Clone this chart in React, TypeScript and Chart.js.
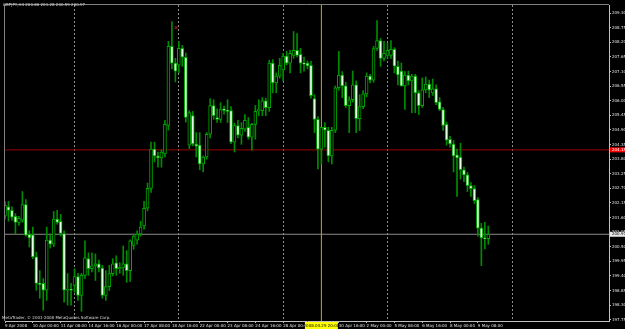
import React, { useEffect, useRef } from "react";
import { Chart, registerables } from "chart.js";
Chart.register(...registerables);

const symbolTitle = "GBPJPY,H4 200.80 201.28 200.59 200.97";
const copyright = "MetaTrader, \u00a9 2001-2008 MetaQuotes Software Corp.";

const opens = [
  201.65, 202.0, 201.87, 201.65, 201.42, 201.5, 202.09, 200.97, 200.95, 200.12,
  199.12, 199.12, 198.86, 200.75, 200.6, 201.54, 201.46, 201.0, 198.86, 198.9,
  199.04, 199.38, 198.67, 199.42, 200.05, 199.67, 199.78, 199.86, 199.7, 198.67,
  199.0, 199.49, 199.89, 199.67, 199.72, 199.86, 199.6, 200.55, 200.75, 200.98,
  201.28, 201.95, 202.7, 204.18, 203.92, 203.85, 204.0, 205.07, 208.05, 207.42,
  207.34, 207.98, 207.64, 204.33, 205.44, 204.37, 204.33, 203.62, 203.88, 204.74,
  205.82, 205.37, 205.3, 205.7, 205.63, 205.63, 204.44, 205.07, 204.7, 204.93,
  205.0, 204.63, 205.11, 205.63, 205.63, 206.0, 205.74, 207.42, 206.67, 206.93,
  207.16, 207.68, 207.42, 207.71, 207.9, 207.75, 207.42, 207.42, 207.34, 206.08,
  205.3, 204.18, 205.0, 204.89, 203.92, 204.89, 206.49, 206.97, 206.56, 205.82,
  206.04, 206.6, 205.33, 205.78, 206.26, 206.93, 206.78, 207.97, 208.27, 207.6,
  207.71, 207.71, 207.94, 207.3, 207.12, 206.56, 206.97, 206.75, 206.93, 206.3,
  205.82, 206.41, 206.63, 206.3, 206.45, 205.96, 205.67, 205.11, 204.55, 204.37,
  203.96, 203.88, 203.4, 203.21, 202.8, 202.69, 202.28, 201.2, 200.83, 200.8,
];
const highs = [
  202.2, 202.21, 202.0, 201.75, 201.65, 202.58, 202.28, 201.1, 201.24, 200.3,
  199.6, 199.3, 201.24, 200.95, 201.83, 201.87, 201.72, 201.1, 199.49, 199.12,
  199.67, 199.5, 199.5, 200.72, 200.27, 200.27, 200.23, 200.0, 199.8, 199.6,
  199.8, 200.05, 200.16, 199.9, 200.53, 200.35, 200.76, 200.98, 201.1, 201.46,
  202.21, 202.9, 204.44, 204.44, 204.07, 204.15, 205.26, 208.24, 208.98, 207.6,
  208.24, 208.09, 207.8, 205.63, 205.6, 204.8, 204.8, 203.92, 204.8, 206.08,
  206.04, 205.7, 205.93, 205.8, 206.04, 205.78, 205.15, 205.26, 205.18, 205.48,
  205.37, 205.15, 205.82, 206.04, 206.12, 206.1, 207.53, 207.55, 207.05, 207.6,
  207.79, 207.86, 207.9, 208.61, 208.53, 207.98, 207.65, 207.5, 207.5, 206.23,
  205.4, 205.0, 205.18, 205.0, 205.0, 206.56, 207.86, 207.1, 206.7, 206.15,
  207.12, 206.75, 206.23, 206.38, 207.05, 207.0, 208.05, 209.02, 208.35, 208.24,
  208.16, 208.27, 208.0, 207.5, 207.42, 207.1, 207.12, 207.0, 207.0, 206.38,
  206.86, 206.9, 206.78, 206.82, 206.6, 206.12, 205.75, 205.2, 204.66, 204.5,
  204.18, 204.4, 203.5, 203.3, 202.92, 202.8, 202.35, 201.38, 201.42, 201.28,
];
const lows = [
  201.55, 201.46, 201.5, 200.98, 201.3, 201.42, 200.9, 200.49, 200.05, 198.86,
  198.56, 198.11, 198.48, 200.45, 200.5, 201.35, 200.9, 198.41, 198.3, 198.3,
  198.79, 198.48, 198.07, 199.3, 199.42, 199.55, 199.23, 199.55, 198.56, 198.48,
  198.85, 199.4, 199.42, 199.5, 199.42, 199.16, 199.19, 200.4, 200.6, 200.9,
  201.16, 201.85, 202.55, 203.7, 203.5, 203.5, 203.88, 204.9, 207.2, 206.71,
  207.05, 207.3, 205.2, 204.2, 204.3, 203.88, 203.4, 203.32, 203.8, 204.6,
  205.3, 205.18, 205.18, 205.5, 205.18, 204.38, 204.07, 204.6, 204.36, 204.85,
  204.55, 204.14, 204.55, 205.44, 205.44, 205.44, 205.6, 206.3, 206.3, 206.85,
  206.75, 207.35, 207.05, 207.6, 207.65, 207.05, 207.12, 207.2, 206.1, 204.8,
  203.43, 203.62, 204.25, 203.7, 203.62, 204.8, 206.4, 206.12, 205.75, 204.8,
  205.95, 204.8, 204.88, 205.7, 206.15, 206.67, 206.7, 207.9, 207.3, 207.5,
  207.6, 207.6, 207.05, 206.6, 206.55, 205.67, 206.6, 205.55, 205.55, 205.48,
  205.75, 206.3, 206.12, 206.2, 205.85, 205.63, 204.88, 204.33, 204.25, 203.32,
  202.4, 203.05, 202.95, 202.58, 202.4, 202.13, 200.9, 199.79, 200.42, 200.59,
];
const closes = [
  202.06, 201.87, 201.61, 201.42, 201.57, 202.09, 200.94, 200.83, 200.12, 199.12,
  199.08, 198.86, 200.75, 200.6, 201.54, 201.42, 201.0, 198.86, 198.9, 198.86,
  199.38, 198.67, 199.42, 200.08, 199.67, 199.78, 199.86, 199.7, 198.67, 199.0,
  199.49, 199.86, 199.67, 199.72, 199.86, 199.6, 200.72, 200.9, 200.98, 201.24,
  201.95, 202.7, 204.18, 203.92, 203.85, 204.07, 205.11, 208.05, 207.42, 207.12,
  207.98, 207.64, 205.37, 205.56, 204.37, 204.29, 203.62, 203.88, 204.74, 205.82,
  205.44, 205.3, 205.67, 205.63, 205.6, 204.44, 205.07, 204.7, 204.96, 205.26,
  204.63, 205.11, 205.6, 205.67, 206.0, 205.74, 207.42, 206.67, 206.93, 207.34,
  207.68, 207.42, 207.79, 207.9, 207.71, 207.42, 207.38, 207.31, 206.19, 205.3,
  204.18, 205.0, 204.89, 203.92, 204.89, 206.49, 206.97, 206.56, 205.82, 206.04,
  206.6, 205.33, 205.78, 206.26, 206.93, 206.78, 207.97, 208.27, 207.6, 207.79,
  207.9, 207.94, 207.3, 206.97, 206.56, 206.97, 206.75, 206.93, 206.3, 205.82,
  206.41, 206.63, 206.41, 206.45, 205.93, 205.67, 205.07, 204.52, 204.37, 203.92,
  203.85, 203.4, 203.21, 202.8, 202.69, 202.24, 201.2, 200.83, 200.8, 200.97,
];

const timeLabelBars = [0, 8, 16, 24, 32, 40, 48, 56, 64, 72, 80, 88, 96, 104, 112, 120, 128, 136];
const timeLabels = [
  "9 Apr 2008", "10 Apr 00:00", "11 Apr 08:00", "14 Apr 16:00", "16 Apr 00:00",
  "17 Apr 08:00", "18 Apr 16:00", "22 Apr 00:00", "23 Apr 08:00", "24 Apr 16:00",
  "28 Apr 00:00", "29 Apr 08:00", "30 Apr 16:00", "2 May 00:00", "5 May 08:00",
  "6 May 16:00", "8 May 00:00", "9 May 08:00",
];
const priceTicks = [
  197.75, 198.3, 198.85, 199.4, 199.95, 200.5, 201.05, 201.6, 202.15, 202.7, 203.25,
  203.8, 204.35, 204.9, 205.45, 206.0, 206.55, 207.1, 207.65, 208.2, 208.75, 209.3,
];
const weekStartBars = [20, 50, 80, 110, 146];
const redLevel = 204.15;
const bidLevel = 200.97;
const cursorBar = 91;
const cursorLabel = "2008.04.29 20:00";
const markerBar = 49.2;
const markerPrice = 208.76;

const X_MIN = 0;
const X_MAX = 173.714;
const Y_MIN = 197.702;
const Y_MAX = 209.609;

const FONT = "DejaVu Sans";
const WICK = "#008c00";
const BODY_EDGE = "#00a800";
const BEAR_FILL = "#e4ffe4";
const BULL_FILL = "#000000";

const overlay = {
  id: "mtOverlay",
  afterDraw(chart: any) {
    const { ctx, chartArea, scales } = chart;
    ctx.save();
    ctx.strokeStyle = "#808080";
    ctx.lineWidth = 1;
    ctx.beginPath();
    ctx.moveTo(chartArea.left - 0.5, chartArea.bottom);
    ctx.lineTo(chartArea.left - 0.5, chartArea.top - 0.5);
    ctx.lineTo(chartArea.right, chartArea.top - 0.5);
    ctx.stroke();

    ctx.font = `4px "${FONT}"`;
    ctx.textBaseline = "middle";
    ctx.textAlign = "left";
    ctx.fillStyle = "#d8d8d8";
    ctx.fillText(symbolTitle, 3, 5);
    ctx.fillText(copyright, 2, 318);

    const yr = scales.y.getPixelForValue(redLevel);
    ctx.fillStyle = "#ff0000";
    ctx.fillRect(chartArea.right + 1, yr - 2.5, 15, 5);
    ctx.fillStyle = "#ffffff";
    ctx.fillText(redLevel.toFixed(2), chartArea.right + 3, yr);

    const yb = scales.y.getPixelForValue(bidLevel);
    ctx.fillStyle = "#e8e8e8";
    ctx.fillRect(chartArea.right + 1, yb - 2.5, 15, 5);
    ctx.fillStyle = "#000000";
    ctx.fillText(bidLevel.toFixed(2), chartArea.right + 3, yb);

    const xc = scales.x.getPixelForValue(cursorBar);
    const w = 33;
    ctx.fillStyle = "#ffff00";
    ctx.fillRect(xc - w / 2, chartArea.bottom + 1, w, 7);
    ctx.fillStyle = "#000000";
    ctx.textAlign = "center";
    ctx.fillText(cursorLabel, xc, chartArea.bottom + 4.5);
    ctx.restore();
  },
};

export default function App() {
  const ref = useRef<HTMLCanvasElement | null>(null);
  useEffect(() => {
    if (!ref.current) return;
    const wickData = opens.map((_, i) => ({ x: i, y: [lows[i], highs[i]] }));
    const bodyData = opens.map((o, i) => ({ x: i, y: [o, closes[i]] }));
    const bodyFill = opens.map((o, i) => (closes[i] >= o ? BULL_FILL : BEAR_FILL));
    const chart = new Chart(ref.current, {
      type: "bar",
      data: {
        datasets: [
          {
            type: "line",
            data: [{ x: X_MIN, y: redLevel }, { x: X_MAX, y: redLevel }],
            borderColor: "#9a0000",
            borderWidth: 1,
            pointRadius: 0,
            order: 10,
            xAxisID: "x",
            yAxisID: "y",
          } as any,
          {
            type: "line",
            data: [{ x: X_MIN, y: bidLevel }, { x: X_MAX, y: bidLevel }],
            borderColor: "#8a8a8a",
            borderWidth: 1,
            pointRadius: 0,
            order: 10,
            xAxisID: "x",
            yAxisID: "y",
          } as any,
          {
            type: "line",
            data: [{ x: cursorBar, y: Y_MIN }, { x: cursorBar, y: Y_MAX }],
            borderColor: "#c0b000",
            borderWidth: 1,
            pointRadius: 0,
            order: 9,
            xAxisID: "x",
            yAxisID: "y",
          } as any,
          {
            data: wickData as any,
            backgroundColor: WICK,
            borderWidth: 0,
            barThickness: 1,
            grouped: false,
            order: 2,
            xAxisID: "x",
            yAxisID: "y",
          },
          {
            data: bodyData as any,
            backgroundColor: bodyFill,
            borderColor: BODY_EDGE,
            borderWidth: 1,
            borderSkipped: false,
            barThickness: 3,
            minBarLength: 1,
            grouped: false,
            order: 1,
            xAxisID: "x",
            yAxisID: "y",
          },
          {
            type: "scatter",
            data: [{ x: markerBar, y: markerPrice }],
            pointStyle: "crossRot",
            pointRadius: 2,
            borderColor: "#cc2020",
            borderWidth: 1,
            order: 0,
            xAxisID: "x",
            yAxisID: "y",
          } as any,
        ],
      },
      options: {
        animation: false,
        responsive: false,
        events: [],
        layout: { padding: { top: 1, left: 1, right: 0, bottom: 0 } },
        plugins: { legend: { display: false }, tooltip: { enabled: false } },
        scales: {
          x: {
            type: "linear",
            position: "bottom",
            min: X_MIN,
            max: X_MAX,
            offset: false,
            afterBuildTicks: (s: any) => {
              s.ticks = timeLabelBars.map((v) => ({ value: v }));
            },
            afterFit: (s: any) => {
              s.height = 8;
            },
            ticks: {
              color: "#e0e0e0",
              font: { size: 4, family: FONT },
              align: "start",
              maxRotation: 0,
              minRotation: 0,
              autoSkip: false,
              padding: 1,
              callback: (_v: any, i: number) => timeLabels[i],
            },
            grid: { drawOnChartArea: false, tickLength: 2, color: "#c0c0c0", offset: false },
            border: { color: "#c0c0c0", width: 1 },
          },
          xg: {
            type: "linear",
            position: "bottom",
            min: X_MIN,
            max: X_MAX,
            offset: false,
            afterBuildTicks: (s: any) => {
              s.ticks = weekStartBars.map((v) => ({ value: v }));
            },
            afterFit: (s: any) => {
              s.height = 0;
            },
            ticks: { display: false },
            grid: { color: "#8c8c8c", drawTicks: false, lineWidth: 1, offset: false },
            border: { display: false, dash: [2, 2] },
          },
          y: {
            type: "linear",
            position: "right",
            min: Y_MIN,
            max: Y_MAX,
            beginAtZero: false,
            afterBuildTicks: (s: any) => {
              s.ticks = priceTicks.map((v) => ({ value: v }));
            },
            afterFit: (s: any) => {
              s.width = 16;
            },
            ticks: {
              color: "#e0e0e0",
              font: { size: 4, family: FONT },
              padding: 1,
              autoSkip: false,
              callback: (v: any) => Number(v).toFixed(2),
            },
            grid: { drawOnChartArea: false, tickLength: 2, color: "#c0c0c0" },
            border: { color: "#c0c0c0", width: 1 },
          },
        },
      } as any,
      plugins: [overlay],
    });
    return () => chart.destroy();
  }, []);
  return (
    <div style={{ position: "fixed", left: 0, top: 0, width: 625, height: 329, background: "#000000" }}>
      <canvas ref={ref} width={625} height={329} style={{ display: "block" }} />
    </div>
  );
}
